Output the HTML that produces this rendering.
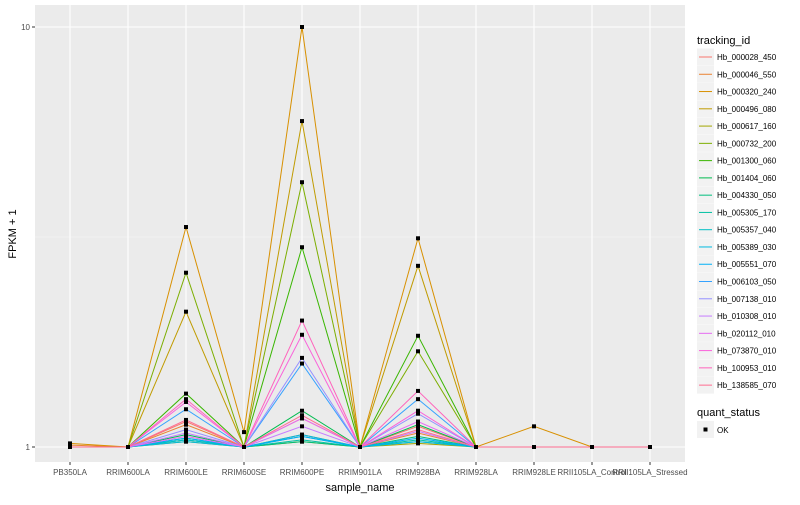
<!DOCTYPE html>
<html><head><meta charset="utf-8"><style>
body{margin:0;background:#fff;font-family:"Liberation Sans",sans-serif}
svg text{font-family:"Liberation Sans",sans-serif}
</style></head><body>
<svg id="c" width="800" height="500"></svg>
<script>
const samples=["PB350LA","RRIM600LA","RRIM600LE","RRIM600SE","RRIM600PE","RRIM901LA","RRIM928BA","RRIM928LA","RRIM928LE","RRII105LA_Control","RRII105LA_Stressed"];
const ids=["Hb_000028_450","Hb_000046_550","Hb_000320_240","Hb_000496_080","Hb_000617_160","Hb_000732_200","Hb_001300_060","Hb_001404_060","Hb_004330_050","Hb_005305_170","Hb_005357_040","Hb_005389_030","Hb_005551_070","Hb_006103_050","Hb_007138_010","Hb_010308_010","Hb_020112_010","Hb_073870_010","Hb_100953_010","Hb_138585_070"];
const colors=["#F8766D","#EA8331","#D89000","#C09B00","#A3A500","#7CAE00","#39B600","#00BB4E","#00BF7D","#00C1A3","#00BFC4","#00BAE0","#00B0F6","#35A2FF","#9590FF","#C77CFF","#E76BF3","#FA62DB","#FF62BC","#FF6C91"];
const s01=[1,1,1.15,1,1.17,1,1.12,1,1,1,1];
const s02=[1.01,1,1.13,1,1.07,1,1.08,1,1,1,1];
const s03=[1.02,1,3.34,1.085,10,1,3.14,1,1.12,1,1];
const s04=[1,1,2.10,1,5.97,1,2.70,1,1,1,1];
const s05=[1,1,1.03,1,1.03,1,1.02,1,1,1,1];
const s06=[1,1,2.60,1,4.27,1,1.69,1,1,1,1];
const s07=[1,1,1.34,1,2.99,1,1.84,1,1,1,1];
const s08=[1,1,1.07,1,1.22,1,1.13,1,1,1,1];
const s09=[1,1,1.05,1,1.03,1,1.06,1,1,1,1];
const s10=[1,1,1.04,1,1.04,1,1.04,1,1,1,1];
const s11=[1,1,1.04,1,1.06,1,1.03,1,1,1,1];
const s12=[1,1,1.03,1,1.07,1,1.03,1,1,1,1];
const s13=[1,1,1.05,1,1.06,1,1.05,1,1,1,1];
const s14=[1,1,1.23,1,1.58,1,1.30,1,1,1,1];
const s15=[1,1,1.10,1,1.63,1,1.20,1,1,1,1];
const s16=[1,1,1.08,1,1.12,1,1.09,1,1,1,1];
const s17=[1,1,1.06,1,1.17,1,1.15,1,1,1,1];
const s18=[1,1,1.28,1,1.85,1,1.22,1,1,1,1];
const s19=[1,1,1.30,1,2.0,1,1.36,1,1,1,1];
const s20=[1,1,1.16,1,1.19,1,1.10,1,1,1,1];
const series=[s01,s02,s03,s04,s05,s06,s07,s08,s09,s10,s11,s12,s13,s14,s15,s16,s17,s18,s19,s20];
const yTicks=[1,10];
const NS="http://www.w3.org/2000/svg";
const svg=document.getElementById('c');
function mk(t,a,p){const e=document.createElementNS(NS,t);for(const k in a)e.setAttribute(k,a[k]);(p||svg).appendChild(e);return e;}
const PL=35,PR=685,PT=5,PB=462;
const x=i=>70+i*58;
const y=v=>447-420*Math.log10(v);
let e=mk('rect',{x:PL,y:PT,width:PR-PL,height:PB-PT,fill:'#EBEBEB'});


mk('line',{x1:PL,x2:PR,y1:y(Math.sqrt(10)),y2:y(Math.sqrt(10)),stroke:'#F5F5F5','stroke-width':0.6});
yTicks.forEach(t=>{
 mk('line',{x1:PL,x2:PR,y1:y(t),y2:y(t),stroke:'#fff','stroke-width':1.1});
 mk('line',{x1:PL-3,x2:PL,y1:y(t),y2:y(t),stroke:'#333','stroke-width':1});
 const l=mk('text',{x:PL-5,y:y(t)+3,'text-anchor':'end','font-size':8,fill:'#4D4D4D'});l.textContent=t;
 
 
});
samples.forEach((s,i)=>{
 mk('line',{x1:x(i),x2:x(i),y1:PT,y2:PB,stroke:'#fff','stroke-width':1.1});
 mk('line',{x1:x(i),x2:x(i),y1:PB,y2:PB+3,stroke:'#333','stroke-width':1});
 const l=mk('text',{x:x(i),y:PB+13,'text-anchor':'middle','font-size':8,fill:'#4D4D4D'});l.textContent=s;
 
 
});
series.forEach((vals,k)=>{
 const p=mk('polyline',{points:vals.map((v,i)=>x(i)+','+y(v)).join(' '),fill:'none',stroke:colors[k],'stroke-width':1});
 
 
});
series.forEach(vals=>vals.forEach((v,i)=>{
 const r=mk('rect',{x:x(i)-2,y:y(v)-2,width:4,height:4,fill:'#000'});
 
 
}));
let t=mk('text',{x:360,y:491,'text-anchor':'middle','font-size':11,fill:'#000'});t.textContent='sample_name';


t=mk('text',{x:0,y:0,transform:'translate(16,234) rotate(-90)','text-anchor':'middle','font-size':11,fill:'#000'});t.textContent='FPKM + 1';


t=mk('text',{x:697,y:44,'font-size':11,fill:'#000'});t.textContent='tracking_id';


ids.forEach((id,k)=>{
 const cy=57+k*17.27;
 const g=mk('g',{});
 
 
 mk('rect',{x:697,y:cy-8.5,width:17,height:17,fill:'#F2F2F2'},g);
 mk('line',{x1:699,x2:712,y1:cy,y2:cy,stroke:colors[k],'stroke-width':1},g);
 const l=mk('text',{x:717,y:cy+3,'font-size':8,fill:'#000'},g);l.textContent=id;
});
t=mk('text',{x:697,y:416,'font-size':11,fill:'#000'});t.textContent='quant_status';


const g=mk('g',{});


mk('rect',{x:697,y:421,width:17,height:17,fill:'#F2F2F2'},g);
mk('rect',{x:703.5,y:427.5,width:4,height:4,fill:'#000'},g);
const ok=mk('text',{x:717,y:433,'font-size':8,fill:'#000'},g);ok.textContent='OK';
</script>
</body></html>
